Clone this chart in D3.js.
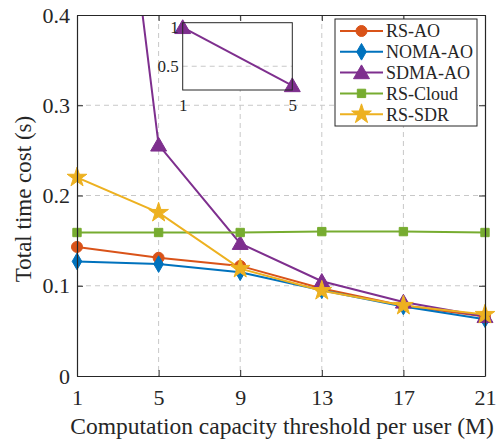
<!DOCTYPE html>
<html><head><meta charset="utf-8">
<script src="https://cdn.jsdelivr.net/npm/d3@7"></script>
<style>body{margin:0;background:#fff}svg{display:block}svg text{font-family:"Times New Roman","Liberation Serif",Tinos,"Nimbus Roman",serif !important}</style>
</head><body><svg id="c" width="500" height="443"></svg>
<script>
const xValues = [1, 5, 9, 13, 17, 21];
const seriesNames = ["RS-AO", "NOMA-AO", "SDMA-AO", "RS-Cloud", "RS-SDR"];
const rsAO    = [0.143, 0.131, 0.122, 0.097, 0.078, 0.066];
const nomaAO  = [0.127, 0.124, 0.115, 0.095, 0.077, 0.063];
const sdmaAO  = [0.990, 0.256, 0.147, 0.105, 0.082, 0.066];
const rsCloud = [0.159, 0.159, 0.159, 0.160, 0.160, 0.159];
const rsSDR   = [0.220, 0.181, 0.119, 0.0945, 0.078, 0.068];
const yTicks = [0, 0.1, 0.2, 0.3, 0.4];
const insetX = [1, 5];
const insetY = [0.990, 0.256];
const insetYTicks = [0.5, 1];

const colors = ["#D95319", "#0072BD", "#7E2F8E", "#77AC30", "#EDB120"];
const markers = ["circle", "diamond", "triangle", "square", "star"];
const data = [rsAO, nomaAO, sdmaAO, rsCloud, rsSDR];

const svg = d3.select("#c");
const L = 77, R = 485, T = 15, B = 376;
const x = d3.scaleLinear().domain([1, 21]).range([L, R]);
const y = d3.scaleLinear().domain([0, 0.4]).range([B, T]);

const symType = {circle: d3.symbolCircle, diamond: d3.symbolDiamond, triangle: d3.symbolTriangle, square: d3.symbolSquare, star: d3.symbolStar};
const symSize = {circle: 95, diamond: 80, triangle: 110, square: 70, star: 120};
function marker(g, m, col, cx, cy) {
  g.append("path").attr("d", d3.symbol().type(symType[m]).size(symSize[m])())
    .attr("transform", `translate(${cx},${cy + (m === "triangle" ? 1.5 : 0)})`)
    .attr("fill", col).attr("stroke", col).attr("stroke-width", 1);
}

// grid
const grid = svg.append("g").attr("stroke", "#c8c8c8").attr("stroke-dasharray", "5,4").attr("stroke-width", 1);
xValues.slice(1, -1).forEach(v => grid.append("line").attr("x1", x(v)).attr("x2", x(v)).attr("y1", T).attr("y2", B));
yTicks.slice(1, -1).forEach(v => grid.append("line").attr("x1", L).attr("x2", R).attr("y1", y(v)).attr("y2", y(v)));

// lines
svg.append("defs").append("clipPath").attr("id", "clip").append("rect").attr("x", L).attr("y", T).attr("width", R - L).attr("height", B - T);
const plot = svg.append("g").attr("clip-path", "url(#clip)");
const line = d3.line().x((d, i) => x(xValues[i])).y(d => y(d));
data.forEach((s, k) => {
  plot.append("path").attr("d", line(s)).attr("fill", "none").attr("stroke", colors[k]).attr("stroke-width", 2);
});
const mk = svg.append("g");
data.forEach((s, k) => {
  s.forEach((v, i) => { if (v <= 0.4) marker(mk, markers[k], colors[k], x(xValues[i]), y(v)); });
});

// axes (box with inward ticks)
const ax = svg.append("g");
const xAxB = d3.axisBottom(x).tickValues(xValues).tickSizeInner(-6).tickSizeOuter(0).tickPadding(13);
const xAxT = d3.axisTop(x).tickValues(xValues).tickSizeInner(-6).tickSizeOuter(0).tickFormat("");
const yAxL = d3.axisLeft(y).tickValues(yTicks).tickSizeInner(-6).tickSizeOuter(0).tickPadding(7).tickFormat(d => d === 0 ? "0" : d3.format(".1f")(d));
const yAxR = d3.axisRight(y).tickValues(yTicks).tickSizeInner(-6).tickSizeOuter(0).tickFormat("");
ax.append("g").attr("transform", `translate(0,${B})`).call(xAxB);
ax.append("g").attr("transform", `translate(0,${T})`).call(xAxT);
ax.append("g").attr("transform", `translate(${L},0)`).call(yAxL);
ax.append("g").attr("transform", `translate(${R},0)`).call(yAxR);
ax.selectAll(".domain").attr("stroke", "#262626").attr("stroke-width", 1.2);
ax.selectAll(".tick line").attr("stroke", "#262626");
ax.selectAll(".tick text").attr("font-size", 22).attr("fill", "#262626");

svg.append("text").attr("x", 282).attr("y", 434).attr("text-anchor", "middle")
  .attr("font-size", 23.5).attr("fill", "#262626").text("Computation capacity threshold per user (M)");
svg.append("text").attr("transform", `translate(31,199) rotate(-90)`).attr("text-anchor", "middle")
  .attr("font-size", 23).attr("fill", "#262626").text("Total time cost (s)");

// inset
const iL = 182.7, iR = 292.3, iT = 22.7, iB = 90;
const ix = d3.scaleLinear().domain([1, 5]).range([iL, iR]);
const iy = d3.scaleLinear().domain([0.2, 1.05]).range([iB, iT]);
const ins = svg.append("g");
ins.append("rect").attr("x", iL).attr("y", iT).attr("width", iR - iL).attr("height", iB - iT).attr("fill", "#fff");
ins.append("line").attr("x1", iL).attr("x2", iR).attr("y1", iy(0.5)).attr("y2", iy(0.5))
  .attr("stroke", "#c8c8c8").attr("stroke-dasharray", "5,4");
ins.append("path").attr("d", d3.line().x((d, i) => ix(insetX[i])).y(d => iy(d))(insetY))
  .attr("fill", "none").attr("stroke", colors[2]).attr("stroke-width", 2);
insetY.forEach((v, i) => marker(ins, "triangle", colors[2], ix(insetX[i]), iy(v)));
ins.append("rect").attr("x", iL).attr("y", iT).attr("width", iR - iL).attr("height", iB - iT)
  .attr("fill", "none").attr("stroke", "#262626").attr("stroke-width", 1);
ins.append("g").attr("transform", `translate(0,${iB})`)
  .call(d3.axisBottom(ix).tickValues(insetX).tickSize(0).tickPadding(9).tickFormat(d3.format("d")))
  .call(g => g.select(".domain").remove());
ins.append("g").attr("transform", `translate(${iL},0)`)
  .call(d3.axisLeft(iy).tickValues(insetYTicks).tickSize(0).tickPadding(4).tickFormat(d => d === 1 ? "1" : "0.5"))
  .call(g => g.select(".domain").remove());
ins.selectAll(".tick text").attr("font-size", 17).attr("fill", "#262626");

// legend
const lg = svg.append("g");
const lx = 335, ly = 19, lw = 142, lh = 107;
lg.append("rect").attr("x", lx).attr("y", ly).attr("width", lw).attr("height", lh).attr("fill", "#fff").attr("stroke", "#262626").attr("stroke-width", 1);
seriesNames.forEach((n, k) => {
  const yy = ly + 12 + k * 20.8;
  lg.append("line").attr("x1", lx + 5).attr("x2", lx + 48).attr("y1", yy).attr("y2", yy).attr("stroke", colors[k]).attr("stroke-width", 2);
  marker(lg, markers[k], colors[k], lx + 26.5, yy);
  lg.append("text").attr("x", lx + 51).attr("y", yy).attr("dy", "0.35em").attr("font-size", 18).attr("fill", "#262626").text(n);
});
</script></body></html>
